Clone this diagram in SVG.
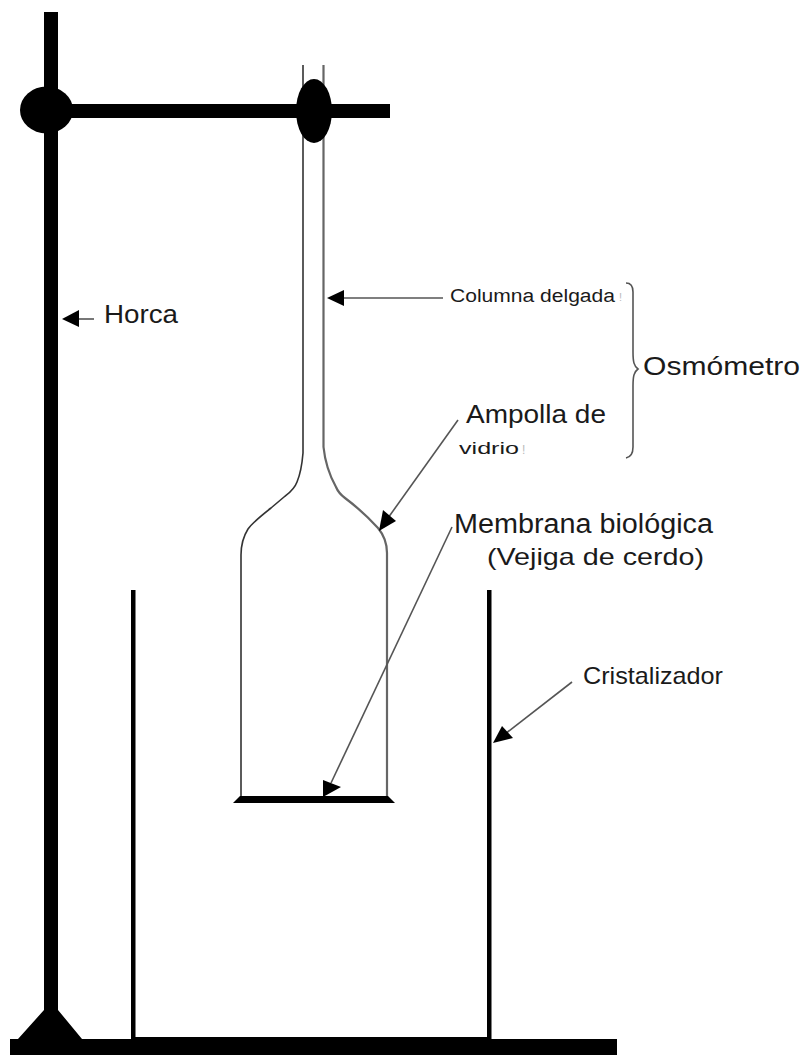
<svg xmlns="http://www.w3.org/2000/svg" width="802" height="1055" viewBox="0 0 802 1055">
<style>
text{font-family:"Liberation Sans",Arial,sans-serif;fill:#1a1a1a}
.glass{fill:none;stroke:#333;stroke-width:1.6}
.lead{fill:none;stroke:#555;stroke-width:1.6}
.head{fill:#000}
.solid{fill:#000}
.faint{fill:#bbb}
</style>
<rect width="802" height="1055" fill="#fff"/>
<g id="soporte">
<rect class="solid" x="44" y="12" width="14" height="1010"/>
<rect class="solid" x="46" y="104" width="344" height="14"/>
<ellipse class="solid" cx="46.5" cy="110" rx="26.5" ry="23.5"/>
<polygon class="solid" points="44,1010 58,1010 82,1039 617,1039 617,1055 10,1055 10,1039 18,1039"/>
</g>
<g id="cristalizador">
<rect class="solid" x="131" y="590" width="4.500" height="450"/>
<rect class="solid" x="487" y="590" width="4.500" height="450"/>
<rect class="solid" x="131" y="1037" width="360" height="4"/>
</g>
<g id="osmometro">
<path class="glass" d="M303 65V453C302 465 300 475 297 482C294 490 289 493 284 497L271 508C262 515 253 522 248 529C243 537 241 546 241 555V798"/>
<path class="glass" style="stroke:#666;stroke-width:2.2" d="M323.500 65V447C325 462 331 478 336 487C338 492 341 495 345 498C357 507 368 517 378 528C383 534 387 541 387 553V798"/>
<ellipse class="solid" cx="314" cy="111" rx="18" ry="32"/>
<polygon class="solid" points="240,796 388,796 395,803 233,803"/>
</g>
<g id="llave">
<path class="lead" d="M626 283C631 283 633 286 633 292V352C633 362 634 366 638 369C634 372 633 376 633 386V447C633 453 631 457 626 458"/>
</g>
<g id="conectores">
<line class="lead" x1="94" y1="319" x2="76" y2="319"/>
<polygon class="head" points="62,319 79,310 79,327"/>
<line class="lead" x1="443" y1="298" x2="340" y2="298"/>
<polygon class="head" points="327,298 344,290 344,306"/>
<line class="lead" x1="458" y1="420" x2="388" y2="518"/>
<polygon class="head" points="379,531 383,510 396,521"/>
<line class="lead" x1="452" y1="527" x2="331" y2="783"/>
<polygon class="head" points="323,797 323,780 341,787"/>
<line class="lead" x1="572" y1="682" x2="505" y2="734"/>
<polygon class="head" points="493,743 502,726 513,738"/>
</g>
<g id="etiquetas">
<text x="104" y="323" font-size="26" textLength="74" lengthAdjust="spacingAndGlyphs">Horca</text>
<text x="450" y="302" font-size="18" textLength="165" lengthAdjust="spacingAndGlyphs">Columna delgada</text>
<text class="faint" x="619" y="301" font-size="11">!</text>
<text x="643" y="375" font-size="26" textLength="157" lengthAdjust="spacingAndGlyphs">Osmómetro</text>
<text x="466" y="423" font-size="26" textLength="140" lengthAdjust="spacingAndGlyphs">Ampolla de</text>
<text x="459" y="454" font-size="17" textLength="60" lengthAdjust="spacingAndGlyphs">vidrio</text>
<text class="faint" x="522" y="454" font-size="12">!</text>
<text x="454" y="533" font-size="27" textLength="259" lengthAdjust="spacingAndGlyphs">Membrana biológica</text>
<text x="487" y="565" font-size="24" textLength="217" lengthAdjust="spacingAndGlyphs">(Vejiga de cerdo)</text>
<text x="583" y="684" font-size="24" textLength="140" lengthAdjust="spacingAndGlyphs">Cristalizador</text>
</g>
</svg>
